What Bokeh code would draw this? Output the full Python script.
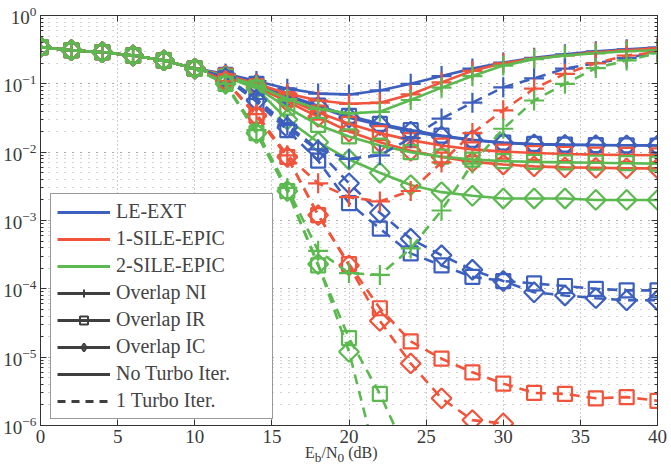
import math

from bokeh.embed import file_html
from bokeh.models import (ColumnDataSource, CustomJSTickFormatter, Div, Legend,
                          LegendItem, LinearAxis, LogAxis, LogTicker,
                          SingleIntervalTicker)
from bokeh.plotting import figure
from bokeh.resources import INLINE

nan = float("nan")

# Eb/N0 grid (dB)
snr_db = [0, 2, 4, 6, 8, 10, 12, 14, 16, 18, 20, 22, 24, 26, 28, 30, 32, 34, 36, 38, 40]

# BER, 0..10 dB is common to every receiver
low_snr = [0.345, 0.31, 0.29, 0.26, 0.22, 0.167]

# ---- no turbo iteration (solid) ----
le_ext_ni = low_snr + [0.14, 0.11, 0.085, 0.072, 0.07, 0.08, 0.1, 0.13, 0.167, 0.205, 0.24, 0.27, 0.3, 0.32, 0.34]
le_ext_ir = low_snr + [0.135, 0.1, 0.068, 0.048, 0.034, 0.026, 0.021, 0.0175, 0.0152, 0.0138, 0.0132, 0.0129, 0.0127, 0.0126, 0.0125]
le_ext_ic = low_snr + [0.133, 0.098, 0.066, 0.046, 0.032, 0.025, 0.02, 0.017, 0.015, 0.0136, 0.013, 0.0128, 0.0127, 0.0126, 0.0125]
sile1_ni = low_snr + [0.135, 0.1, 0.072, 0.057, 0.051, 0.053, 0.07, 0.105, 0.155, 0.2, 0.235, 0.26, 0.29, 0.31, 0.33]
sile1_ir = low_snr + [0.132, 0.092, 0.06, 0.038, 0.026, 0.019, 0.015, 0.0125, 0.011, 0.0102, 0.0097, 0.0094, 0.0092, 0.0091, 0.009]
sile1_ic = low_snr + [0.13, 0.09, 0.055, 0.033, 0.02, 0.014, 0.0105, 0.0085, 0.0072, 0.0066, 0.0062, 0.006, 0.0059, 0.0058, 0.0058]
sile2_ni = low_snr + [0.13, 0.095, 0.06, 0.043, 0.037, 0.039, 0.058, 0.088, 0.13, 0.185, 0.23, 0.26, 0.28, 0.3, 0.31]
sile2_ir = low_snr + [0.128, 0.088, 0.045, 0.025, 0.017, 0.0125, 0.01, 0.0086, 0.0078, 0.0074, 0.0072, 0.0071, 0.007, 0.0069, 0.0068]
sile2_ic = low_snr + [0.127, 0.085, 0.03, 0.014, 0.0078, 0.005, 0.0033, 0.0026, 0.0023, 0.0021, 0.0021, 0.0021, 0.002, 0.002, 0.002]

# ---- one turbo iteration (dashed) ----
le_ext_ni_t = low_snr + [0.125, 0.06, 0.025, 0.011, 0.008, 0.009, 0.016, 0.031, 0.053, 0.089, 0.12, 0.167, 0.2, 0.24, 0.29]
le_ext_ir_t = low_snr + [0.12, 0.055, 0.021, 0.0075, 0.0018, 7.6e-4, 3.3e-4, 2.2e-4, 1.5e-4, 1.3e-4, 1.2e-4, 1.1e-4, 1.0e-4, 9.5e-5, 9.5e-5]
le_ext_ic_t = low_snr + [0.12, 0.057, 0.023, 0.0105, 0.0035, 1.3e-3, 5.4e-4, 3.1e-4, 1.9e-4, 1.3e-4, 8.9e-5, 8.0e-5, 7.3e-5, 6.8e-5, 6.8e-5]
sile1_ni_t = low_snr + [0.11, 0.036, 0.009, 0.0035, 0.0022, 0.0019, 0.0027, 0.0071, 0.019, 0.041, 0.085, 0.14, 0.2, 0.26, 0.29]
sile1_ir_t = low_snr + [0.11, 0.034, 0.0085, 0.0012, 2.3e-4, 5.2e-5, 1.7e-5, 9.5e-6, 6.0e-6, 4.1e-6, 3.0e-6, 2.9e-6, 2.5e-6, 2.6e-6, 2.3e-6]
sile1_ic_t = low_snr + [0.11, 0.034, 0.0085, 0.0012, 2.2e-4, 3.4e-5, 8.1e-6, 2.5e-6, 1.2e-6, 1.07e-6, nan, nan, nan, nan, nan]
sile2_ni_t = low_snr + [0.1, 0.021, 0.003, 3.6e-4, 1.7e-4, 1.6e-4, 3.9e-4, 1.4e-3, 6.8e-3, 0.022, 0.057, 0.1, 0.17, 0.22, 0.28]
sile2_ir_t = low_snr + [0.1, 0.019, 0.0027, 2.2e-4, 1.9e-5, 2.9e-6, 3.0e-7, nan, nan, nan, nan, nan, nan, nan, nan]
sile2_ic_t = low_snr + [0.1, 0.019, 0.0027, 2.3e-4, 1.2e-5, 2.0e-7, nan, nan, nan, nan, nan, nan, nan, nan, nan]

receiver_names = ["LE-EXT", "1-SILE-EPIC", "2-SILE-EPIC"]
overlap_names = ["Overlap NI", "Overlap IR", "Overlap IC"]
turbo_names = ["No Turbo Iter.", "1 Turbo Iter."]
x_title_html = "E<sub>b</sub>/N<sub>0</sub> (dB)"

BLUE = "#3d5fbd"
RED = "#f1533b"
GREEN = "#5cb950"
DARK = "#3f3f3f"
SERIF = "Liberation Serif"
DASH = "10 7"

curves = [
    (BLUE, "ni", le_ext_ni, "solid"), (BLUE, "ir", le_ext_ir, "solid"), (BLUE, "ic", le_ext_ic, "solid"),
    (RED, "ni", sile1_ni, "solid"), (RED, "ir", sile1_ir, "solid"), (RED, "ic", sile1_ic, "solid"),
    (GREEN, "ni", sile2_ni, "solid"), (GREEN, "ir", sile2_ir, "solid"), (GREEN, "ic", sile2_ic, "solid"),
    (BLUE, "ni", le_ext_ni_t, DASH), (BLUE, "ir", le_ext_ir_t, DASH), (BLUE, "ic", le_ext_ic_t, DASH),
    (RED, "ni", sile1_ni_t, DASH), (RED, "ir", sile1_ir_t, DASH), (RED, "ic", sile1_ic_t, DASH),
    (GREEN, "ni", sile2_ni_t, DASH), (GREEN, "ir", sile2_ir_t, DASH), (GREEN, "ic", sile2_ic_t, DASH),
]

marker_style = {
    "ni": dict(marker="cross", size=20, angle=0.0),
    "ir": dict(marker="square", size=14, angle=0.0),
    "ic": dict(marker="square", size=14, angle=math.pi / 4),
}
legend_marker = {
    "ni": dict(marker="cross", size=11),
    "ir": dict(marker="square", size=8),
    "ic": dict(marker="diamond", size=12),
}

p = figure(width=671, height=465, x_range=(0, 40), y_range=(1e-6, 1),
           y_axis_type="log", output_backend="svg", toolbar_location=None,
           min_border_left=39, min_border_right=14, min_border_top=15,
           min_border_bottom=40, background_fill_color="white",
           border_fill_color="white")
p.outline_line_color = "#333333"
p.outline_line_width = 1

# axes
p.xaxis.ticker = SingleIntervalTicker(interval=5, num_minor_ticks=0)
p.yaxis.ticker = LogTicker(num_minor_ticks=10)
for ax in (p.xaxis[0], p.yaxis[0]):
    ax.major_tick_in = 6
    ax.major_tick_out = 0
    ax.minor_tick_in = 3
    ax.minor_tick_out = 0
    ax.axis_line_color = "#333333"
    ax.major_tick_line_color = "#333333"
    ax.minor_tick_line_color = "#333333"
    ax.major_label_text_font = SERIF
    ax.major_label_text_font_size = "19px"
    ax.major_label_text_color = "#3a3a3a"
p.xaxis.major_label_standoff = 4
p.yaxis.major_label_standoff = 4

blank = CustomJSTickFormatter(code="return ''")
top_axis = LinearAxis(ticker=SingleIntervalTicker(interval=5, num_minor_ticks=0),
                      formatter=blank, major_tick_in=6, major_tick_out=0,
                      minor_tick_in=0, minor_tick_out=0, major_label_standoff=0,
                      axis_line_color="#333333", major_tick_line_color="#333333")
right_axis = LogAxis(ticker=LogTicker(num_minor_ticks=10), formatter=blank,
                     major_tick_in=6, major_tick_out=0, minor_tick_in=3,
                     minor_tick_out=0, major_label_standoff=0,
                     axis_line_color="#333333", major_tick_line_color="#333333",
                     minor_tick_line_color="#333333")
p.add_layout(top_axis, "above")
p.add_layout(right_axis, "right")

# dotted grid
p.xgrid.grid_line_color = "#9a9a9a"
p.xgrid.grid_line_dash = "1 3"
p.xgrid.grid_line_width = 1
p.ygrid.grid_line_color = "#9a9a9a"
p.ygrid.grid_line_dash = "1 7"
p.ygrid.minor_grid_line_color = "#a8a8a8"
p.ygrid.minor_grid_line_dash = "1 7"

# BER curves
for color, kind, ber, dash in curves:
    src = ColumnDataSource(data=dict(x=snr_db, y=ber))
    p.line("x", "y", source=src, line_color=color, line_width=2.6, line_dash=dash)
    st = marker_style[kind]
    p.scatter("x", "y", source=src, marker=st["marker"], size=st["size"],
              angle=st["angle"], line_color=color, line_width=2.2, fill_color=None)

# legend proxies: a single NaN row, so nothing shows inside the frame
proxy = ColumnDataSource(data=dict(x=[nan], y=[nan]))
items = []
for name, color in zip(receiver_names, [BLUE, RED, GREEN]):
    r = p.line("x", "y", source=proxy, line_color=color, line_width=3)
    items.append(LegendItem(label=name, renderers=[r]))
for name, kind in zip(overlap_names, ["ni", "ir", "ic"]):
    st = legend_marker[kind]
    rl = p.line("x", "y", source=proxy, line_color=DARK, line_width=3)
    rm = p.scatter("x", "y", source=proxy, marker=st["marker"], size=st["size"],
                   line_color=DARK, line_width=2, fill_color=None)
    items.append(LegendItem(label=name, renderers=[rl, rm]))
for name, dash in zip(turbo_names, ["solid", "8 6"]):
    r = p.line("x", "y", source=proxy, line_color=DARK, line_width=3, line_dash=dash)
    items.append(LegendItem(label=name, renderers=[r]))

legend = Legend(items=items, location=(10, 6), orientation="vertical",
                label_text_font=SERIF, label_text_font_size="20px",
                label_text_color="#444444", glyph_width=53, glyph_height=20,
                label_height=20, label_width=150, label_standoff=6, spacing=4,
                padding=6, margin=0, border_line_color="#333333",
                border_line_width=1, background_fill_color="white",
                background_fill_alpha=1.0)
p.add_layout(legend)

# x axis title (with subscripts), floated under the middle of the frame
x_title = Div(text=x_title_html, styles={
    "position": "absolute", "left": "305px", "top": "445px",
    "font-family": SERIF, "font-size": "16px", "line-height": "16px",
    "color": "#3a3a3a", "white-space": "nowrap", "margin": "0",
})
p.elements.append(x_title)

open("out.html", "w").write(file_html(p, INLINE))
